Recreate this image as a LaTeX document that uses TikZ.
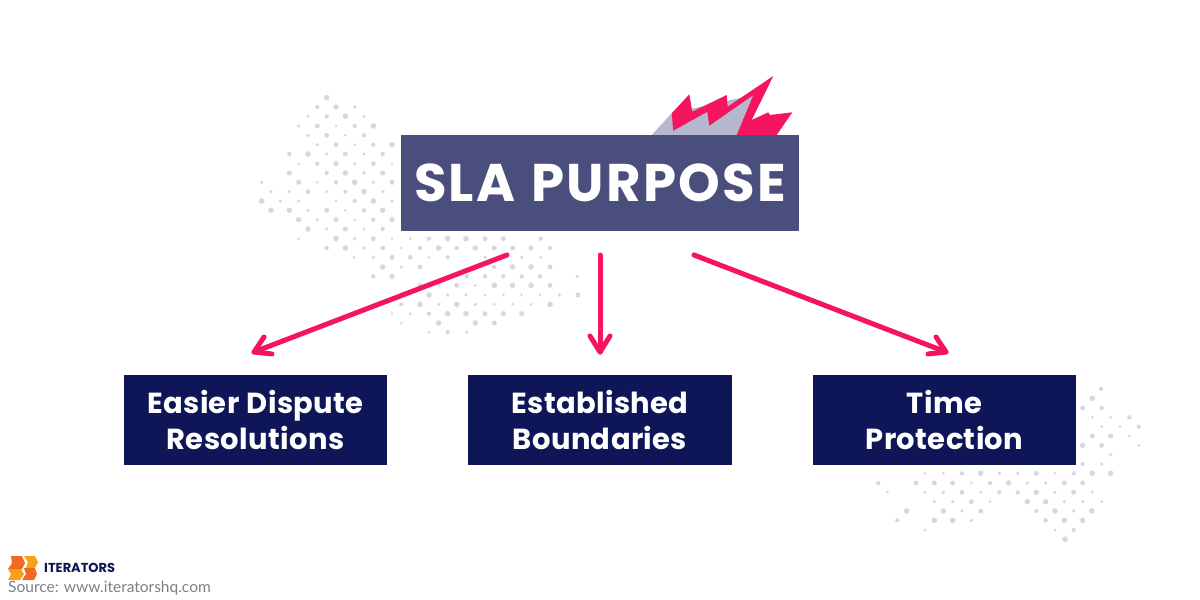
\documentclass[tikz,border=0pt]{standalone}
\usepackage{fontspec}
\setmainfont{Poppins}
\newfontfamily\srcfont{Lato}
\newfontfamily\mainfontwide[LetterSpace=4.2,WordSpace=1.2]{Poppins}
\newfontfamily\subfontwide[LetterSpace=1.2,WordSpace=1.1]{Poppins}
\definecolor{mainbox}{HTML}{4A4E7C}
\definecolor{subbox}{HTML}{0F1657}
\definecolor{hot}{HTML}{F5145F}
\definecolor{dotgrey}{HTML}{D6D8E1}
\definecolor{sparkgrey}{HTML}{B5B7CC}
\definecolor{srcgrey}{HTML}{7C8089}
\definecolor{orangeA}{HTML}{F9A01B}
\definecolor{orangeB}{HTML}{F26A21}
\tikzset{
  mainnode/.style={fill=mainbox,text=white,font=\mainfontwide\bfseries\fontsize{53}{60}\selectfont,anchor=center,inner sep=0pt},
  subnode/.style={fill=subbox,text=white,font=\subfontwide\bfseries\fontsize{29}{36}\selectfont,align=center,inner sep=0pt,minimum height=90pt},
  arrowline/.style={draw=hot,line width=5pt,line cap=round,line join=round},
}
\newcommand{\dotrowL}[2]{\foreach \xx in {#2}{\pgfmathsetmacro{\rr}{1.5+1.3*mod(\xx*7+#1*3,5)/4}\fill[dotgrey] ({250+\xx/3},{85+#1/3}) circle (\rr pt);}}
\newcommand{\dotrowR}[2]{\foreach \xx in {#2}{\pgfmathsetmacro{\rr}{1.5+1.3*mod(\xx*7+#1*3,5)/4}\fill[dotgrey] ({870+\xx/3},{380+#1/3}) circle (\rr pt);}}
\begin{document}
\begin{tikzpicture}[x=1pt,y=-1pt]
\useasboundingbox (0,0) rectangle (1200,600);
\fill[white] (0,0) rectangle (1200,600);
% halftone dots, left
\dotrowL{38}{230}\dotrowL{66}{202,258,314}\dotrowL{94}{174,230,286,342}
\dotrowL{123}{146,202,258,314,370}\dotrowL{151}{174,230,286,342}
\dotrowL{179}{202,258,314,370,426}\dotrowL{207}{118,174,230,286,342,398}
\dotrowL{236}{146,202,258,314,370,426}\dotrowL{264}{118,230,286,342,398}
\dotrowL{292}{35,146,202,258,314,370,426}\dotrowL{320}{63,118,174,230,286,342,398}
\dotrowL{348}{35,91,146,258,314,370,426}\dotrowL{376}{63,118,174,230,286,342,398}
\dotrowL{404}{146,202,258,314,370,426}\dotrowL{432}{174,230,286,342,398}
\dotrowL{461}{146,258,314,370,426,481,537,593,648,705,760,872}
\dotrowL{489}{230,286,342,398,454,510,566,620,676,733,788,843,900}
\dotrowL{517}{312,370,426,481,537,593,705,815,872}
\dotrowL{546}{398,454,510,732,788,843,900}
\dotrowL{574}{370,426,650,705,760,815,870,982}
\dotrowL{601}{510,566,620,676,733,788,843,900}
\dotrowL{630}{537,593,648,705,760,815,870,928,984}
\dotrowL{658}{454,510,566,620,676,733,788,843,900}
\dotrowL{686}{426,481,537,593,648,705,760,815}
\dotrowL{714}{454,566,676,733}\dotrowL{742}{537,593,650}
% halftone dots, right
\dotrowR{27}{693}\dotrowR{55}{667}\dotrowR{84}{638,695}\dotrowR{112}{667,722,778}
\dotrowR{140}{695,750,806}\dotrowR{168}{667,722,778}\dotrowR{196}{638,695,806}
\dotrowR{224}{722}\dotrowR{252}{638,695}
\dotrowR{280}{165,220,276,332,388,443,499,555,611,667,722}
\dotrowR{309}{25,138,193,248,304,360,416,472,527,583,638}
\dotrowR{337}{52,165,220,276,332,388,443,499,555,611,667}
\dotrowR{365}{193,248,304,360,472,527,583,638,695}
\dotrowR{393}{110,220,276,332,499,555,611,665}
\dotrowR{421}{82,193,248,304,527,583,638}
\dotrowR{450}{165,555,611}\dotrowR{478}{585}
% spark
\fill[sparkgrey] (651.7,135) -- (671.7,113.3) -- (753.3,95) -- (736.7,135) -- cycle;
\fill[hot] (671.7,113.3) -- (689.3,94.3) -- (692.3,111.7) -- (726.7,95) -- (727.7,106.7) -- (773.3,76)
  -- (751.7,120) -- (768.3,112.3) -- (770,115) -- (792.3,112.3) -- (776.7,135) -- (736.7,135)
  -- (753.3,95) -- (709.3,125.7) -- (707.3,111.7) -- (673.3,130.7) -- cycle;
% boxes
\node[mainnode,minimum width=398pt,minimum height=96pt] (main) at (600,183) {SLA PURPOSE};
\node[subnode,minimum width=263pt] (a) at (255.5,420) {Easier Dispute\\Resolutions};
\node[subnode,minimum width=264pt] (b) at (600,420) {Established\\Boundaries};
\node[subnode,minimum width=263pt] (c) at (944.5,420) {Time\\Protection};
% arrows
\coordinate (s1) at (507,255); \coordinate (e1) at (254,352);
\coordinate (s2) at (600,255); \coordinate (e2) at (600,352);
\coordinate (s3) at (694,255); \coordinate (e3) at (946,352);
\draw[arrowline] (s1) -- (e1);
\draw[arrowline] (s2) -- (e2);
\draw[arrowline] (s3) -- (e3);
\draw[arrowline] (264,337) -- (e1) -- (272,354);
\draw[arrowline] (590,336) -- (e2) -- (610,336);
\draw[arrowline] (928,354) -- (e3) -- (936,337);
% logo
\fill[orangeB] (11,556) -- (22,556) -- (25,563) -- (22,569) -- (8,569) -- (12,563) -- cycle;
\fill[orangeA] (8,569) -- (21,569) -- (24,574) -- (20,580) -- (8,580) -- (11,574) -- cycle;
\fill[orangeA] (24,556) -- (35,556) -- (38,562) -- (35,568) -- (26,568) -- (28,562) -- cycle;
\fill[orangeB] (24,568) -- (35,568) -- (37,574) -- (34,580) -- (22,580) -- (26,574) -- cycle;
\node[anchor=west,inner sep=0pt,text=subbox,font=\bfseries\fontsize{13}{13}\selectfont] (logo) at (44,568) {ITERATORS};
\node[anchor=west,inner sep=0pt,text=srcgrey,font=\srcfont\fontsize{15.5}{16}\selectfont] (src) at (8,588) {Source: www.iteratorshq.com};
\end{tikzpicture}
\end{document}
